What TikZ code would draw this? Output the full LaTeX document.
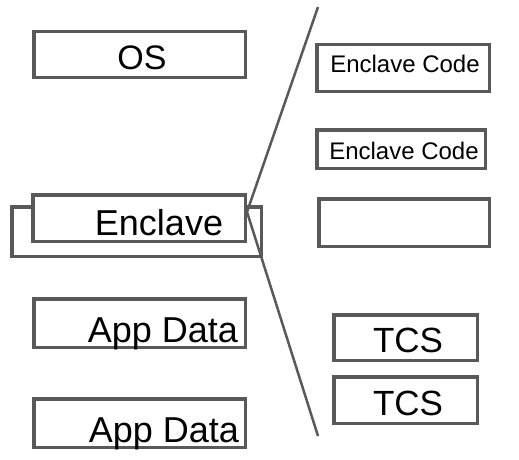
\documentclass[tikz,border=0pt]{standalone}
\usepackage{fontspec}
\setmainfont{Liberation Sans}
\usepackage{xcolor}
\usepackage{tikz}
\usetikzlibrary{positioning}

\definecolor{edgegray}{HTML}{595959}

\begin{document}
\begin{tikzpicture}[
    x=1pt, y=-1pt,
    box/.style={
        draw=edgegray,
        fill=white,
        line width=3.5pt,
        inner sep=0pt,
        outer sep=0pt
    },
    bigtxt/.style={
        anchor=base,
        inner sep=0pt,
        font=\fontsize{36}{40}\selectfont
    },
    smalltxt/.style={
        anchor=base,
        inner sep=0pt,
        font=\fontsize{24}{28}\selectfont
    },
    split/.style={
        draw=edgegray,
        line width=2.5pt
    }
]
\useasboundingbox (0,0) rectangle (519,460);

% left column
\node[box, minimum width=211.5pt, minimum height=45.5pt] (os) at (139.5,54.5) {};
\node[bigtxt, font=\fontsize{34}{40}\selectfont] (ostxt) at (142,70) {OS};

\node[box, minimum width=249.5pt, minimum height=49.5pt] (encback) at (136.5,231.5) {};
\node[box, minimum width=212.5pt, minimum height=46.5pt] (enc) at (139,218) {};
\node[bigtxt] (enctxt) at (159,235) {Enclave};

\node[box, minimum width=211.5pt, minimum height=48.5pt] (app1) at (139.5,323) {};
\node[bigtxt] (app1txt) at (163,342) {App Data};

\node[box, minimum width=211.5pt, minimum height=48.5pt] (app2) at (139.5,423) {};
\node[bigtxt] (app2txt) at (164,442) {App Data};

% right column
\node[box, minimum width=172.5pt, minimum height=46.5pt] (code1) at (403,68) {};
\node[smalltxt] (code1txt) at (405,73) {Enclave Code};

\node[box, minimum width=168.5pt, minimum height=38.5pt] (code2) at (401,149) {};
\node[smalltxt] (code2txt) at (404,159) {Enclave Code};

\node[box, minimum width=170.5pt, minimum height=47.5pt] (blank) at (404,222.5) {};

\node[box, minimum width=143.5pt, minimum height=45.5pt] (tcs1) at (405.5,337.5) {};
\node[bigtxt, font=\fontsize{35}{40}\selectfont] (tcs1txt) at (408,352) {TCS};

\node[box, minimum width=143.5pt, minimum height=46.5pt] (tcs2) at (405.5,400) {};
\node[bigtxt, font=\fontsize{35}{40}\selectfont] (tcs2txt) at (408,415) {TCS};

% zoom lines
\coordinate (tip) at (247,212);
\coordinate (top) at (318,7);
\coordinate (bot) at (318,436);
\draw[split] (top) -- (tip) -- (bot);

\end{tikzpicture}
\end{document}
